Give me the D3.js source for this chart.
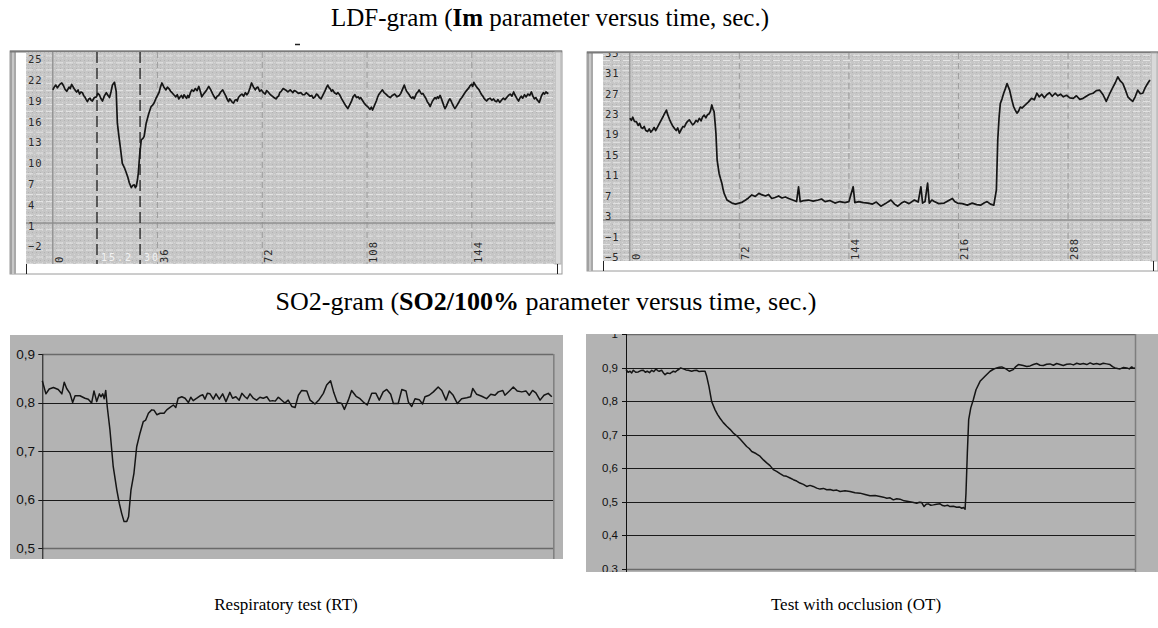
<!DOCTYPE html>
<html><head><meta charset="utf-8">
<script src="https://cdn.jsdelivr.net/npm/d3@7"></script>
<style>body{margin:0;background:#fff}svg{display:block}</style>
</head><body>
<svg id="c" width="1158" height="628"></svg>
<script>
// ---------- DATA ----------
// LDF-gram, respiratory test (Im vs time, s)
const ldfRtTime = [0,0.5,1.0,1.6,2.4,3.1,3.7,4.2,4.8,5.2,5.6,6.0,6.5,6.9,7.3,7.8,8.2,8.7,9.2,9.7,10.2,10.6,11.0,11.5,11.9,12.4,12.8,13.2,13.6,14.3,15.0,15.5,16.0,16.5,17.1,17.7,18.4,19.0,19.5,20.0,20.5,21.2,21.8,22.2,22.7,23.2,23.9,24.6,25.3,25.8,26.3,27.0,27.5,28.0,28.4,28.7,29.1,29.4,29.9,30.4,31.0,31.4,32.1,33.0,33.8,34.3,34.8,35.6,36.5,37.0,37.5,38.2,38.9,39.4,39.9,40.5,41.0,41.6,42.3,42.8,43.3,43.8,44.2,44.7,45.1,45.6,46.0,46.4,46.8,47.3,47.8,48.4,49.0,49.6,50.2,50.7,51.2,52.0,52.9,53.6,54.3,55.0,55.5,56.0,56.5,57.0,57.7,58.4,59.0,59.5,60.0,60.4,60.8,61.2,61.7,62.1,62.6,63.0,63.4,63.8,64.4,65.0,65.6,66.2,66.7,67.2,67.8,68.3,69.0,69.6,70.0,70.5,71.1,71.7,72.4,73.0,73.5,74.0,74.6,75.1,76.0,76.8,77.2,77.6,78.0,78.5,79.2,80.0,80.8,81.6,82.1,82.5,83.0,83.6,84.4,85.3,85.9,86.5,87.1,87.7,88.4,89.0,89.5,90.1,90.6,91.0,91.6,92.2,92.8,93.4,94.0,94.5,95.0,95.3,95.8,96.2,96.8,97.5,98.0,98.6,99.3,100.0,100.7,101.4,102.0,102.6,103.2,103.8,104.4,105.0,105.4,105.8,106.4,107.0,107.6,108.2,108.6,109.0,109.5,109.9,110.4,110.8,111.2,111.6,112.0,112.5,112.9,113.3,113.9,114.5,115.2,116.0,116.7,117.5,118.3,119.1,119.6,120.0,120.4,120.8,121.2,121.6,122.0,122.5,122.9,123.4,123.8,124.2,124.6,125.0,125.5,125.9,126.4,126.8,127.2,127.6,128.2,128.7,129.2,129.7,130.1,130.5,131.0,131.4,131.8,132.2,132.6,133.1,133.6,134.0,134.4,134.8,135.3,135.7,136.1,136.5,136.9,137.3,137.8,138.2,138.8,139.4,140.0,140.6,141.2,141.8,142.4,143.0,143.4,143.9,144.3,144.7,145.2,145.7,146.1,146.5,147.0,147.4,147.8,148.2,148.6,149.1,149.7,150.3,150.9,151.5,152.0,152.5,153.0,153.6,154.2,154.8,155.4,156.0,156.6,157.2,157.8,158.4,158.8,159.2,159.6,160.1,160.5,161.0,161.5,162.1,162.7,163.3,163.9,164.5,165.0,165.5,166.0,166.4,166.8,167.2,167.6,168.0,168.6,169.0,169.5,170.0,170.3];
const ldfRtIm = [20.2,20.6,20.9,20.5,21.0,21.2,20.8,20.3,20.0,20.3,20.6,20.4,21.0,20.7,20.4,20.1,19.9,20.2,19.6,19.9,19.8,19.4,19.2,18.8,18.5,18.9,19.0,18.7,18.6,19.1,19.2,19.7,19.5,19.0,18.6,19.3,19.8,19.4,19.1,19.9,20.9,21.3,20.0,15.4,13.6,12.0,9.6,9.0,8.2,7.6,6.8,6.1,6.4,6.5,6.1,6.3,7.2,8.2,11.0,13.0,13.2,13.5,15.4,16.8,17.8,18.0,18.3,19.1,19.8,20.6,21.2,20.6,20.2,20.6,20.4,20.0,19.8,19.5,19.2,19.5,18.9,19.2,19.4,19.0,19.5,19.2,19.0,19.4,19.1,19.8,20.2,20.0,20.4,20.1,20.7,20.0,19.2,19.7,20.2,20.7,20.2,19.6,19.2,18.9,19.3,19.4,19.9,20.2,19.7,19.3,18.8,18.5,18.9,18.7,18.4,18.3,18.7,18.8,18.6,19.1,19.4,19.6,19.3,19.8,19.5,19.8,20.5,21.2,20.6,20.2,20.5,20.6,20.0,20.2,19.8,19.6,20.1,19.9,19.6,19.4,19.1,18.9,19.2,19.3,19.8,20.0,20.4,20.2,19.9,20.2,20.0,19.8,20.1,20.0,19.7,19.8,19.5,19.5,19.8,19.6,19.3,19.4,19.0,19.2,19.6,19.5,19.1,18.9,19.4,19.9,20.5,20.9,20.5,20.4,20.0,20.2,19.8,19.6,19.8,19.5,18.9,18.4,17.9,17.5,18.0,18.5,19.2,19.5,19.1,19.2,18.9,19.1,18.7,18.3,18.0,17.8,17.6,17.4,17.7,17.3,17.8,18.2,18.6,19.1,19.5,19.8,20.0,20.2,19.8,19.6,19.3,19.1,19.4,19.6,19.2,19.4,19.7,20.1,20.5,20.9,20.4,20.0,19.8,19.5,19.2,19.0,19.2,18.9,19.3,19.7,19.9,20.2,19.8,19.6,19.7,19.4,19.0,18.5,18.2,17.8,18.2,18.6,18.9,19.1,18.9,19.2,19.0,19.4,18.9,18.4,17.9,17.5,17.9,18.3,18.7,18.9,18.6,18.2,17.8,17.5,17.9,18.3,18.8,19.1,19.5,19.9,20.2,20.5,20.8,21.0,20.7,21.3,20.9,20.6,20.4,20.2,19.8,19.5,19.3,19.0,18.8,18.6,18.9,19.0,18.7,18.9,18.6,18.5,18.8,18.4,18.7,19.0,18.8,19.1,19.4,19.6,19.3,19.9,19.5,19.2,18.9,18.6,19.0,19.3,19.0,19.5,19.2,19.6,19.4,19.9,19.3,18.9,19.1,18.8,18.6,18.4,18.9,19.4,19.8,19.6,19.9,19.7,19.8];
const ldfRtYTicks = [25,22,19,16,13,10,7,4,1,-2];
const ldfRtXTicks = [0,36,72,108,144];
const ldfRtMarkers = [15.2,30];
const ldfRtMarkerLabels = ["15.2","30"];

// LDF-gram, occlusion test
const ldfOtTime = [0,1.0,2.0,3.0,4.4,5.5,6.5,7.5,8.5,9.5,10.5,11.7,12.8,13.8,15.0,16.0,17.0,18.3,19.5,20.9,22.0,23.0,24.1,24.8,26.1,27.0,28.0,29.4,30.5,31.5,32.6,33.8,35.0,35.9,37.0,38.0,39.1,40.2,41.3,42.4,43.5,44.6,45.7,46.8,47.9,48.9,50.0,51.1,52.2,53.0,53.9,54.7,55.4,56.0,56.6,57.4,58.7,59.6,60.5,61.3,62.0,63.0,63.9,65.5,67.2,69.5,71.8,74.0,76.1,78.0,80.2,82.5,84.8,87.0,89.2,91.2,93.3,95.5,97.8,100.0,102.2,104.4,107.0,109.6,110.9,112.0,114.5,117.4,120.5,123.9,126.0,128.3,131.5,134.8,138.0,141.4,144.0,146.8,147.9,150.5,153.5,156.6,159.5,162.0,165.0,168.0,171.6,174.0,176.1,178.5,180.5,183.5,187.0,189.5,191.3,192.4,194.0,195.7,196.8,198.5,200.1,203.0,206.6,209.0,212.0,213.5,215.3,218.5,221.8,225.0,228.0,230.5,232.8,234.8,237.0,239.2,240.9,241.8,242.7,243.5,244.6,245.7,246.8,247.9,248.7,249.6,250.9,252.2,253.3,254.4,255.5,256.6,257.7,259.9,262.0,264.0,265.8,267.5,269.0,270.7,272.4,274.0,275.8,277.6,279.5,281.3,283.1,284.9,287.0,289.2,291.4,293.5,295.7,297.9,300.0,302.2,304.4,306.6,308.8,311.0,313.1,315.2,317.5,319.1,320.7,322.3,324.0,325.6,327.3,328.9,330.5,332.1,333.8,335.5,337.1,338.7,340.3,341.8];
const ldfOtIm = [22.2,21.8,22.4,21.6,21.5,20.8,21.2,20.4,20.2,20.6,19.8,19.6,20.1,19.5,19.9,20.4,19.8,20.5,21.2,22.0,22.6,23.2,23.8,23.0,22.0,21.4,20.8,20.2,19.8,20.3,19.3,20.0,20.6,20.5,21.2,21.6,21.9,21.4,20.9,21.2,21.8,21.5,22.2,21.7,22.5,22.8,22.3,22.9,23.1,23.6,24.8,24.0,23.5,21.5,19.3,14.0,11.4,10.4,9.5,8.3,7.5,6.8,6.2,5.9,5.6,5.4,5.6,5.8,6.2,6.6,7.2,6.9,7.5,7.2,7.0,7.3,6.5,6.7,7.0,6.6,6.8,6.5,6.2,5.9,8.8,5.9,6.1,6.2,6.0,6.2,6.4,5.9,6.1,5.6,5.9,5.7,5.9,8.8,5.7,5.9,5.7,5.6,5.4,5.8,5.0,5.5,6.2,5.4,5.0,5.6,5.9,5.5,6.2,5.8,8.8,5.6,5.9,9.5,5.6,6.2,5.9,5.5,5.6,6.0,6.5,5.9,5.6,5.5,5.2,5.6,5.3,5.2,5.6,5.9,5.4,5.2,8.2,18.0,22.5,25.1,26.0,27.1,28.0,29.0,28.4,27.7,26.0,24.5,23.8,23.2,23.6,24.4,24.2,24.8,25.4,26.1,25.8,27.1,26.4,26.9,26.2,26.8,27.2,26.5,27.1,26.6,26.9,26.4,26.7,26.2,26.1,26.6,25.9,26.1,26.5,26.9,27.1,27.6,27.7,26.8,25.5,26.9,28.3,29.2,30.3,29.5,29.0,27.8,26.4,25.9,25.5,26.4,27.7,27.0,27.1,28.2,29.0,29.7];
const ldfOtYTicks = [35,31,27,23,19,15,11,7,3,-1,-5];
const ldfOtXTicks = [0,72,144,216,288];

// SO2-gram, respiratory test (SO2/100%)
const so2RtTime = [0,1.2,2.3,3.7,5.3,6.5,7.3,8.1,9.2,10.1,10.9,12.5,14.2,15.3,16.4,17.2,18.1,19.0,19.5,20.1,20.6,21.1,21.6,22.5,23.6,24.8,25.6,26.4,27.2,28.1,28.7,29.5,30.5,31.4,32.5,33.6,34.4,35.3,36.4,37.2,38.1,39.2,40.5,41.4,42.5,43.6,44.4,45.2,46.4,47.5,48.6,49.4,50.2,51.4,52.5,53.4,54.1,54.9,55.8,56.9,57.8,58.9,60.0,61.1,62.4,63.3,64.4,65.5,66.4,67.4,68.2,69.1,70.2,71.3,72.4,73.5,74.7,75.7,76.6,77.5,78.5,79.1,80.7,81.8,83.0,84.1,85.2,86.3,88.0,89.1,90.7,92.1,93.5,94.6,95.9,97.0,98.1,99.6,100.5,101.8,102.9,104.4,105.7,106.8,108.1,109.6,111.0,112.1,113.4,114.6,115.9,116.8,118.4,119.6,121.0,121.8,122.9,124.0,125.4,126.5,127.3,128.7,130.1,131.7,132.9,134.3,135.4,136.7,138.1,139.5,141.2,142.5,143.2,144.5,146.2,147.8,149.2,150.6,151.7,153.2,153.9,155.4,156.7,158.0,159.5,160.9,162.0,163.1,164.2,165.6,166.9,168.3,169.5];
const so2RtVal = [0.845,0.818,0.828,0.831,0.827,0.818,0.842,0.829,0.819,0.800,0.814,0.814,0.809,0.807,0.799,0.824,0.802,0.818,0.812,0.818,0.808,0.825,0.792,0.744,0.668,0.620,0.593,0.572,0.555,0.555,0.565,0.620,0.655,0.709,0.737,0.761,0.764,0.778,0.785,0.784,0.775,0.778,0.778,0.785,0.790,0.795,0.790,0.809,0.812,0.809,0.800,0.811,0.804,0.809,0.814,0.816,0.807,0.819,0.818,0.807,0.818,0.807,0.818,0.802,0.821,0.809,0.812,0.805,0.819,0.812,0.808,0.818,0.809,0.805,0.811,0.809,0.812,0.803,0.804,0.803,0.811,0.808,0.799,0.805,0.792,0.790,0.815,0.825,0.824,0.805,0.797,0.806,0.819,0.836,0.845,0.820,0.801,0.798,0.786,0.805,0.825,0.813,0.808,0.801,0.795,0.819,0.819,0.805,0.822,0.827,0.817,0.798,0.798,0.827,0.824,0.801,0.792,0.808,0.806,0.797,0.812,0.815,0.822,0.832,0.825,0.805,0.824,0.815,0.798,0.808,0.810,0.812,0.829,0.817,0.813,0.808,0.817,0.815,0.822,0.825,0.815,0.824,0.832,0.824,0.822,0.824,0.815,0.825,0.820,0.805,0.815,0.819,0.812];
const so2RtYTicks = [0.5,0.6,0.7,0.8,0.9];

// SO2-gram, occlusion test
const so2OtTime = [0,1.4,2.7,3.8,4.9,6.5,8.2,9.9,11.6,12.9,14.2,15.7,17.2,18.6,20.0,21.1,22.2,23.8,25.0,26.1,27.6,29.4,30.5,31.6,33.0,34.3,35.4,36.5,38.3,40.0,41.6,43.9,45.5,47.2,48.9,50.6,52.8,53.9,55.4,57.2,59.5,61.2,62.8,65.0,67.3,69.5,71.7,74.0,76.2,78.4,80.6,82.3,84.0,86.8,89.5,91.8,94.0,96.2,98.4,100.6,102.9,105.1,107.3,109.6,111.8,114.0,116.2,118.5,120.7,122.9,125.1,127.4,129.6,131.9,134.1,136.3,138.5,140.8,143.0,146.3,149.6,153.0,156.3,159.7,163.0,166.4,169.7,172.0,174.2,176.4,178.6,180.8,183.0,185.8,188.6,191.4,194.2,196.0,197.5,199.1,200.5,201.9,203.6,205.3,207.5,209.8,211.5,213.1,214.8,216.4,218.7,220.9,222.6,224.3,225.4,226.5,227.1,228.0,228.9,230.3,232.0,233.8,236.5,239.8,243.2,245.4,247.6,249.3,251.0,252.4,253.8,256.0,258.7,260.4,262.1,265.4,267.7,269.9,272.1,274.3,276.6,278.8,281.0,283.2,285.5,287.7,289.9,292.1,294.4,296.6,298.9,301.1,303.3,305.5,307.8,310.0,312.2,314.4,316.6,318.8,321.1,323.3,325.0,326.7,328.4,330.0,332.3,334.5,336.2,337.8,339.0,340.0];
const so2OtVal = [0.894,0.886,0.889,0.884,0.892,0.886,0.887,0.891,0.892,0.886,0.889,0.885,0.892,0.888,0.896,0.891,0.889,0.892,0.884,0.879,0.884,0.882,0.886,0.889,0.887,0.892,0.895,0.899,0.896,0.893,0.892,0.889,0.891,0.892,0.888,0.889,0.889,0.874,0.844,0.799,0.774,0.760,0.749,0.736,0.725,0.716,0.705,0.697,0.687,0.676,0.665,0.659,0.650,0.644,0.636,0.625,0.616,0.608,0.596,0.591,0.584,0.578,0.576,0.571,0.566,0.562,0.556,0.552,0.546,0.549,0.546,0.541,0.538,0.540,0.536,0.537,0.534,0.535,0.531,0.533,0.531,0.527,0.526,0.522,0.518,0.519,0.516,0.514,0.511,0.512,0.506,0.509,0.508,0.503,0.501,0.499,0.496,0.499,0.498,0.486,0.493,0.494,0.490,0.491,0.493,0.494,0.489,0.488,0.490,0.486,0.487,0.484,0.485,0.481,0.483,0.478,0.526,0.645,0.745,0.780,0.804,0.834,0.859,0.874,0.889,0.895,0.899,0.901,0.902,0.899,0.896,0.889,0.894,0.903,0.909,0.906,0.903,0.905,0.909,0.912,0.907,0.906,0.910,0.911,0.907,0.912,0.909,0.906,0.910,0.911,0.908,0.913,0.910,0.912,0.909,0.914,0.910,0.912,0.909,0.913,0.911,0.909,0.903,0.899,0.897,0.896,0.900,0.899,0.896,0.902,0.898,0.899];
const so2OtYTicks = [0.3,0.4,0.5,0.6,0.7,0.8,0.9,1.0];

// ---------- DRAWING ----------
const svg = d3.select("#c");
const defs = svg.append("defs");
const pat = defs.append("pattern").attr("id","stip").attr("width",4).attr("height",4)
  .attr("patternUnits","userSpaceOnUse");
pat.append("rect").attr("width",4).attr("height",4).attr("fill","#c6c6c6");
pat.append("rect").attr("x",0).attr("y",0).attr("width",1).attr("height",1).attr("fill","#b2b2b2");
pat.append("rect").attr("x",2).attr("y",2).attr("width",1).attr("height",1).attr("fill","#d6d6d6");

const mono = "'DejaVu Sans Mono', monospace";
const serif = "'Liberation Serif','Times New Roman',serif";
const sans = "'Liberation Sans', Arial, sans-serif";

function ldfPanel(id, x, y, times, vals, yTicks, xTicks, labelOff, frameLeft, markers, markerLabels) {
  const [x0, x1] = x.range();
  const [yb, yt] = y.range();
  const g = svg.append("g");
  g.append("rect").attr("x", frameLeft).attr("y", yt - 1).attr("width", x1 + 7 - frameLeft)
    .attr("height", yb - yt + 11).attr("fill", "#fff").attr("stroke", "#9a9a9a");
  g.append("rect").attr("x", frameLeft).attr("y", yt - 1).attr("width", 6).attr("height", yb - yt + 11)
    .attr("fill", "#c8c8c8");
  g.append("line").attr("x1", frameLeft + 1).attr("x2", frameLeft + 1).attr("y1", yt - 1).attr("y2", yb + 10)
    .attr("stroke", "#7a7a7a");
  g.append("line").attr("x1", frameLeft + 5).attr("x2", frameLeft + 5).attr("y1", yt - 1).attr("y2", yb + 10)
    .attr("stroke", "#8a8a8a");
  g.append("line").attr("x1", frameLeft).attr("x2", x1 + 7).attr("y1", yt - 0.5).attr("y2", yt - 0.5)
    .attr("stroke", "#7a7a7a").attr("stroke-width", 2);
  g.append("rect").attr("x", x1).attr("y", yt).attr("width", 6).attr("height", yb - yt)
    .attr("fill", "#d9d9d9").attr("stroke", "#b0b0b0");
  g.append("line").attr("x1", x0 + 0.5).attr("x2", x0 + 0.5).attr("y1", yb).attr("y2", yb + 10).attr("stroke", "#222");
  g.append("line").attr("x1", x1 + 2.5).attr("x2", x1 + 2.5).attr("y1", yb).attr("y2", yb + 10).attr("stroke", "#222");

  defs.append("clipPath").attr("id", id).append("rect")
    .attr("x", x0).attr("y", yt).attr("width", x1 - x0).attr("height", yb - yt);
  const p = g.append("g").attr("clip-path", `url(#${id})`);
  p.append("rect").attr("x", x0).attr("y", yt).attr("width", x1 - x0).attr("height", yb - yt)
    .attr("fill", "url(#stip)");
  const [vlo, vhi] = y.domain();
  const hv = d3.range(Math.floor(vlo), Math.ceil(vhi) + 1);
  p.selectAll(".hg").data(hv).join("line")
    .attr("x1", x0).attr("x2", x1)
    .attr("y1", d => y(d + 0.5) + labelOff).attr("y2", d => y(d + 0.5) + labelOff)
    .attr("stroke", "#e4e4e4").attr("stroke-width", 1).attr("stroke-dasharray", "7,3");
  p.selectAll(".vg").data(xTicks).join("line")
    .attr("x1", d => x(d)).attr("x2", d => x(d)).attr("y1", yt).attr("y2", yb)
    .attr("stroke", d => d === 0 ? "#8c8c8c" : "#a0a0a0").attr("stroke-width", 1.2)
    .attr("stroke-dasharray", d => d === 0 ? null : "6,4");
  p.append("line").attr("x1", x0).attr("x2", x1).attr("y1", yb - 41).attr("y2", yb - 41)
    .attr("stroke", "#8c8c8c").attr("stroke-width", 1.5);
  p.selectAll(".yl").data(yTicks).join("text")
    .attr("x", x0 + 2).attr("y", d => y(d) + labelOff).attr("dy", "0.36em")
    .attr("font-family", mono).attr("font-size", 10.5).attr("letter-spacing", 1)
    .attr("fill", "#2a2a2a").text(d => d < 0 ? "\u2212" + Math.abs(d) : d);
  p.selectAll(".xl").data(xTicks).join("text")
    .attr("transform", d => `translate(${x(d) + 10},${yb - 1}) rotate(-90)`)
    .attr("font-family", mono).attr("font-size", 10.5).attr("letter-spacing", 1)
    .attr("fill", "#2a2a2a").text(d => d);
  if (markers) {
    p.selectAll(".mk").data(markers).join("line")
      .attr("x1", d => x(d)).attr("x2", d => x(d)).attr("y1", yt).attr("y2", yb)
      .attr("stroke", "#111").attr("stroke-width", 1.2).attr("stroke-dasharray", "11,5");
    p.selectAll(".ml").data(markers).join("text")
      .attr("x", (d) => x(d) + 4).attr("y", yb - 3)
      .attr("font-family", mono).attr("font-size", 10).attr("letter-spacing", 2)
      .attr("fill", "#f2f2f2").text((d, i) => markerLabels[i]);
  }
  const line = d3.line().x(d => x(d[0])).y(d => y(d[1]));
  p.append("path").datum(d3.zip(times, vals)).attr("d", line)
    .attr("fill", "none").attr("stroke", "#151515").attr("stroke-width", 1.7)
    .attr("stroke-linejoin", "round");
}

const x1s = d3.scaleLinear().domain([-9.2, 172.6]).range([26, 555]);
const y1s = d3.scaleLinear().domain([-4.92, 25.67]).range([264, 52]);
ldfPanel("cp1", x1s, y1s, ldfRtTime, ldfRtIm, ldfRtYTicks, ldfRtXTicks, 2.8, 10, ldfRtMarkers, ldfRtMarkerLabels);

const x2s = d3.scaleLinear().domain([-17.6, 342.5]).range([603, 1151]);
const y2s = d3.scaleLinear().domain([-5.73, 34.97]).range([261, 53]);
ldfPanel("cp2", x2s, y2s, ldfOtTime, ldfOtIm, ldfOtYTicks, ldfOtXTicks, 0, 587, null, null);

svg.append("line").attr("x1", 295).attr("x2", 300).attr("y1", 44.5).attr("y2", 44.5).attr("stroke", "#222").attr("stroke-width", 1.5);

const loc = d3.formatLocale({decimal: ",", thousands: " ", grouping: [3], currency: ["", ""]});
const f1 = loc.format(".1f");
const fmtSO2 = d => d === 1 ? "1" : f1(d);

function so2Panel(id, box, x, y, times, vals, yTicks, fontSize, labelX) {
  const [x0, x1] = x.range();
  const [yb, yt] = y.range();
  const g = svg.append("g");
  defs.append("clipPath").attr("id", id).append("rect")
    .attr("x", box[0]).attr("y", box[1]).attr("width", box[2] - box[0]).attr("height", box[3] - box[1]);
  const c = g.append("g").attr("clip-path", `url(#${id})`);
  c.append("rect").attr("x", box[0]).attr("y", box[1]).attr("width", box[2] - box[0]).attr("height", box[3] - box[1])
    .attr("fill", "#b3b3b3");
  c.selectAll(".gl").data(yTicks).join("line")
    .attr("x1", x0).attr("x2", x1).attr("y1", d => Math.round(y(d)) + 0.5).attr("y2", d => Math.round(y(d)) + 0.5)
    .attr("stroke", (d, i) => (i === 0 || i === yTicks.length - 1) ? "#6a6a6a" : "#1a1a1a")
    .attr("stroke-width", (d, i) => (i === 0 || i === yTicks.length - 1) ? 1.5 : 1);
  c.append("line").attr("x1", x1 + 0.5).attr("x2", x1 + 0.5).attr("y1", yt).attr("y2", box[3])
    .attr("stroke", "#7e7e7e").attr("stroke-width", 1.5);
  c.append("line").attr("x1", x0 + 0.5).attr("x2", x0 + 0.5).attr("y1", yt).attr("y2", box[3])
    .attr("stroke", "#111");
  c.selectAll(".tk").data(yTicks).join("line")
    .attr("x1", x0 - 4).attr("x2", x0).attr("y1", d => Math.round(y(d)) + 0.5).attr("y2", d => Math.round(y(d)) + 0.5)
    .attr("stroke", "#111");
  c.selectAll(".lb").data(yTicks).join("text")
    .attr("x", labelX).attr("y", d => y(d)).attr("dy", "0.35em").attr("text-anchor", "end")
    .attr("font-family", sans).attr("font-size", fontSize).attr("fill", "#111").text(fmtSO2);
  const line = d3.line().x(d => x(d[0])).y(d => y(d[1]));
  c.append("path").datum(d3.zip(times, vals)).attr("d", line)
    .attr("fill", "none").attr("stroke", "#151515").attr("stroke-width", 1.5).attr("stroke-linejoin", "round");
}

const x3s = d3.scaleLinear().domain([0, 170]).range([42.3, 553.3]);
const y3s = d3.scaleLinear().domain([0.478, 0.9]).range([559, 354]);
so2Panel("cp3", [10, 335, 563, 559], x3s, y3s, so2RtTime, so2RtVal, so2RtYTicks, 13.5, 35);

const x4s = d3.scaleLinear().domain([0, 340]).range([626, 1135]);
const y4s = d3.scaleLinear().domain([0.3, 1.0]).range([569, 334]);
so2Panel("cp4", [586, 334, 1158, 572], x4s, y4s, so2OtTime, so2OtVal, so2OtYTicks, 11.5, 618);

function title(xc, yb, parts, size) {
  const t = svg.append("text").attr("x", xc).attr("y", yb).attr("text-anchor", "middle")
    .attr("font-family", serif).attr("font-size", size).attr("fill", "#000");
  parts.forEach(p => t.append("tspan").attr("font-weight", p[1] ? "bold" : "normal").text(p[0]));
}
title(550, 26, [["LDF-gram (", false], ["Im", true], [" parameter versus time, sec.)", false]], 25);
title(546, 310, [["SO2-gram (", false], ["SO2/100%", true], [" parameter versus time, sec.)", false]], 26);
title(286, 610, [["Respiratory test (RT)", false]], 17);
title(856, 610, [["Test with occlusion (OT)", false]], 17);
</script>
</body></html>
